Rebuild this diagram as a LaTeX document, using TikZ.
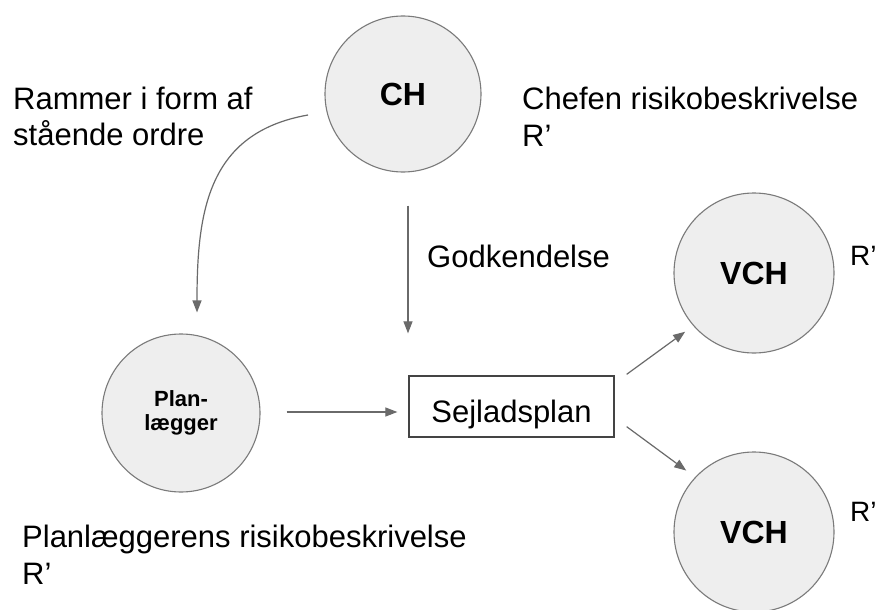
\documentclass[tikz,border=0pt]{standalone}
\usepackage{fontspec}
\setmainfont{Liberation Sans}
\usetikzlibrary{arrows.meta}
\definecolor{circfill}{HTML}{EEEEEE}
\definecolor{circline}{HTML}{7A7A7A}
\definecolor{arrcol}{HTML}{6A6A6A}
\definecolor{boxline}{HTML}{444444}
\tikzset{
  ball/.style={circle, draw=circline, line width=1.1pt, fill=circfill, inner sep=0pt,
    minimum size=#1, font=\fontsize{32}{36}\selectfont\bfseries},
  txt/.style={anchor=base west, inner sep=0pt, font=\fontsize{31}{36}\selectfont},
  smalltxt/.style={anchor=base west, inner sep=0pt, font=\fontsize{28}{30}\selectfont},
  arr/.style={draw=arrcol, line width=1.2pt, -{Triangle[length=12pt,width=9pt]}},
  planbox/.style={rectangle, draw=boxline, line width=1.3pt, fill=white, inner sep=0pt,
    minimum width=205pt, minimum height=61pt, text height=46pt, text depth=15pt,
    font=\fontsize{31}{36}\selectfont}
}
\begin{document}
\begin{tikzpicture}[x=1pt,y=-1pt]
\useasboundingbox (0,0) rectangle (878,610);
\fill[white] (0,0) rectangle (878,610);

% circles
\node[ball=156pt] (ch) at (403,94) {CH};
\node[ball=158pt, font=\fontsize{22}{24}\selectfont\bfseries, align=center] (plan) at (181,413) {Plan-\\lægger};
\node[ball=160pt] (vcha) at (754,273) {VCH};
\node[ball=160pt] (vchb) at (754,532) {VCH};

% box
\node[planbox] (sejl) at (511.5,406.5) {Sejladsplan};

% texts
\node[txt] (ram1) at (13,109) {Rammer i form af};
\node[txt] (ram2) at (13,145) {stående ordre};
\node[txt] (chef1) at (522,109) {Chefen risikobeskrivelse};
\node[txt] (chef2) at (522,146) {R’};
\node[txt] (god) at (427,267) {Godkendelse};
\node[txt] (pl1) at (22,547) {Planlæggerens risikobeskrivelse};
\node[txt] (pl2) at (22,584) {R’};
\node[smalltxt] (ra) at (850,265) {R’};
\node[smalltxt] (rb) at (850,521) {R’};

% connectors
\coordinate (cstart) at (308,115);
\draw[arr] (cstart) to[out=190,in=90,looseness=1.15] ([xshift=16pt,yshift=21pt]plan.north);
\draw[arr] ([xshift=5pt,yshift=-33pt]ch.south) -- ([xshift=-103.5pt,yshift=42pt]sejl.north);
\draw[arr] ([xshift=26pt,yshift=1pt]plan.east) -- ([xshift=-11pt,yshift=-5.5pt]sejl.west);
\draw[arr, shorten >=10pt] ([xshift=12pt,yshift=1pt]sejl.north east) -- (vcha.221);
\draw[arr, shorten >=11pt] ([xshift=12pt,yshift=11pt]sejl.south east) -- (vchb.137);
\end{tikzpicture}
\end{document}
